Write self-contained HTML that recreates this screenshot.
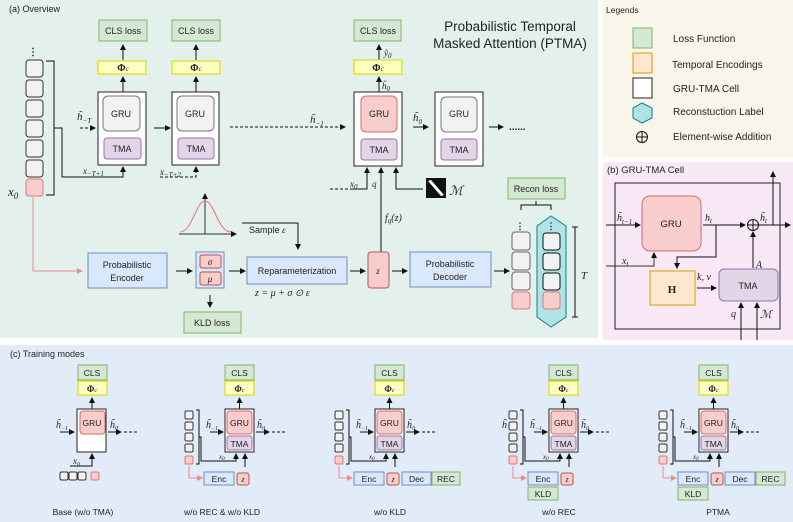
<!DOCTYPE html>
<html><head><meta charset="utf-8"><style>
html,body{margin:0;padding:0;background:#fff}
svg{display:block}
text{font-family:"Liberation Sans",sans-serif;fill:#222}
.m{font-family:"Liberation Serif",serif;font-style:italic}
.b{font-family:"Liberation Serif",serif;font-weight:bold}
</style></head><body>
<svg width="793" height="522" viewBox="0 0 793 522" xmlns="http://www.w3.org/2000/svg">
<defs>
<marker id="a" markerWidth="6" markerHeight="6" refX="5" refY="3" orient="auto" markerUnits="userSpaceOnUse"><path d="M0,0 L6,3 L0,6 z" fill="#111"/></marker>
<marker id="ap" markerWidth="6" markerHeight="6" refX="5" refY="3" orient="auto" markerUnits="userSpaceOnUse"><path d="M0,0 L6,3 L0,6 z" fill="#ea8c8c"/></marker>
</defs>
<!-- backgrounds -->
<rect x="0" y="0" width="598" height="338" fill="#e3f0ec"/>
<rect x="603" y="0" width="190" height="157" fill="#f8f6ea"/>
<rect x="603" y="162" width="190" height="178" fill="#f9e9f6"/>
<rect x="0" y="345" width="793" height="177" fill="#e2ecf8"/>

<!-- ===== Panel (a) ===== -->
<text x="9" y="12" font-size="9">(a) Overview</text>
<text x="510" y="31" font-size="13.5" text-anchor="middle">Probabilistic Temporal</text>
<text x="510" y="48" font-size="13.5" text-anchor="middle">Masked Attention (PTMA)</text>

<!-- input stack -->
<text x="33" y="55" font-size="10" text-anchor="middle" font-weight="bold">⋮</text>
<g fill="#f2f2f2" stroke="#333" stroke-width="1">
<rect x="26" y="60" width="17" height="17" rx="3"/>
<rect x="26" y="80" width="17" height="17" rx="3"/>
<rect x="26" y="100" width="17" height="17" rx="3"/>
<rect x="26" y="120" width="17" height="17" rx="3"/>
<rect x="26" y="140" width="17" height="17" rx="3"/>
<rect x="26" y="160" width="17" height="17" rx="3"/>
</g>
<rect x="26" y="179" width="17" height="17" rx="3" fill="#f8cecc" stroke="#d77" stroke-width="1"/>
<text x="8" y="196" font-size="13" class="m">x<tspan font-size="9" dy="3">0</tspan></text>
<path d="M46,61 H54 V195 H46" fill="none" stroke="#111"/>
<path d="M54,128 H62 V177 H123 V167" fill="none" stroke="#111" marker-end="url(#a)"/>
<text x="83" y="174" font-size="9" class="m">x<tspan font-size="7" dy="2">−T+1</tspan></text>

<!-- cell 1 -->
<rect x="99" y="20" width="48" height="21" fill="#d5e8d4" stroke="#82b366"/>
<text x="123" y="34" font-size="9" text-anchor="middle">CLS loss</text>
<path d="M123,60 V45" stroke="#111" marker-end="url(#a)"/>
<rect x="98" y="61" width="48" height="13" fill="#ffffc0" stroke="#d6d600"/>
<text x="123" y="71" font-size="10" text-anchor="middle" class="b">Φ<tspan font-size="7" class="m" font-weight="normal">c</tspan></text>
<path d="M123,92 V77" stroke="#111" marker-end="url(#a)"/>
<rect x="98" y="92" width="48" height="73" fill="#fff" stroke="#222"/>
<rect x="103" y="96" width="37" height="35" rx="5" fill="#f2f2f2" stroke="#777"/>
<text x="121" y="117" font-size="9" text-anchor="middle">GRU</text>
<rect x="104" y="138" width="37" height="21" rx="3" fill="#e1d5e7" stroke="#9673a6"/>
<text x="122" y="152" font-size="9" text-anchor="middle">TMA</text>
<text x="77" y="120" font-size="11" class="m">h̃<tspan font-size="7" dy="3">−T</tspan></text>
<path d="M80,128 H95" stroke="#111" stroke-dasharray="3,2" marker-end="url(#a)"/>
<path d="M154,128 H170" stroke="#111" marker-end="url(#a)"/>

<!-- cell 2 -->
<rect x="172" y="20" width="48" height="21" fill="#d5e8d4" stroke="#82b366"/>
<text x="196" y="34" font-size="9" text-anchor="middle">CLS loss</text>
<path d="M196,60 V45" stroke="#111" marker-end="url(#a)"/>
<rect x="172" y="61" width="48" height="13" fill="#ffffc0" stroke="#d6d600"/>
<text x="196" y="71" font-size="10" text-anchor="middle" class="b">Φ<tspan font-size="7" class="m" font-weight="normal">c</tspan></text>
<path d="M196,92 V77" stroke="#111" marker-end="url(#a)"/>
<rect x="172" y="92" width="47" height="73" fill="#fff" stroke="#222"/>
<rect x="177" y="96" width="37" height="35" rx="5" fill="#f2f2f2" stroke="#777"/>
<text x="195" y="117" font-size="9" text-anchor="middle">GRU</text>
<rect x="178" y="138" width="36" height="21" rx="3" fill="#e1d5e7" stroke="#9673a6"/>
<text x="196" y="152" font-size="9" text-anchor="middle">TMA</text>
<path d="M160,177 H196 V167" fill="none" stroke="#111" stroke-dasharray="3,2" marker-end="url(#a)"/>
<text x="160" y="175" font-size="9" class="m">x<tspan font-size="7" dy="2">−T+2</tspan></text>

<path d="M230,127 H345" stroke="#111" stroke-dasharray="3,2" marker-end="url(#a)"/>
<text x="310" y="123" font-size="11" class="m">h̃<tspan font-size="7" dy="3">−1</tspan></text>

<!-- cell 3 -->
<rect x="354" y="20" width="47" height="21" fill="#d5e8d4" stroke="#82b366"/>
<text x="378" y="34" font-size="9" text-anchor="middle">CLS loss</text>
<path d="M379,60 V45" stroke="#111" marker-end="url(#a)"/>
<text x="384" y="56" font-size="9" class="m">ŷ<tspan font-size="7" dy="2">0</tspan></text>
<rect x="354" y="60" width="48" height="14" fill="#ffffc0" stroke="#d6d600"/>
<text x="378" y="71" font-size="10" text-anchor="middle" class="b">Φ<tspan font-size="7" class="m" font-weight="normal">c</tspan></text>
<path d="M379,92 V77" stroke="#111" marker-end="url(#a)"/>
<text x="382" y="89" font-size="9" class="m">h̃<tspan font-size="7" dy="2">0</tspan></text>
<rect x="354" y="92" width="48" height="74" fill="#fff" stroke="#222"/>
<rect x="361" y="96" width="36" height="36" rx="5" fill="#f8cecc" stroke="#d36b6b"/>
<text x="379" y="117" font-size="9" text-anchor="middle">GRU</text>
<rect x="361" y="139" width="36" height="21" rx="3" fill="#e1d5e7" stroke="#9673a6"/>
<text x="379" y="153" font-size="9" text-anchor="middle">TMA</text>

<!-- cell 4 -->
<text x="413" y="121" font-size="11" class="m">h̃<tspan font-size="7" dy="3">0</tspan></text>
<path d="M413,127 H428" stroke="#111" marker-end="url(#a)"/>
<rect x="435" y="92" width="48" height="74" fill="#fff" stroke="#222"/>
<rect x="441" y="97" width="36" height="35" rx="5" fill="#f2f2f2" stroke="#777"/>
<text x="459" y="117" font-size="9" text-anchor="middle">GRU</text>
<rect x="441" y="139" width="36" height="21" rx="3" fill="#e1d5e7" stroke="#9673a6"/>
<text x="459" y="153" font-size="9" text-anchor="middle">TMA</text>
<path d="M489,127 H503" stroke="#111" marker-end="url(#a)"/>
<text x="509" y="130" font-size="10" font-weight="bold">......</text>

<!-- inputs to cell 3 -->
<path d="M330,189 H352" fill="none" stroke="#111" stroke-dasharray="3,2"/>
<path d="M352,189 H367 V168" fill="none" stroke="#111" marker-end="url(#a)"/>
<text x="350" y="187" font-size="9" class="m">x<tspan font-size="7" dy="2">0</tspan></text>
<text x="372" y="187" font-size="9" class="m">q</text>
<path d="M381,252 V168" stroke="#111" marker-end="url(#a)"/>
<path d="M423,189 H396 V168" fill="none" stroke="#111" marker-end="url(#a)"/>
<rect x="426" y="178" width="20" height="20" fill="#111"/>
<path d="M428,181 L431,180 L444,195 L441,196 z" fill="#fff"/>
<text x="449" y="195" font-size="13" class="m">ℳ</text>
<text x="385" y="221" font-size="10" class="m">f<tspan font-size="7" dy="2">q</tspan><tspan dy="-2">(z)</tspan></text>

<!-- gaussian -->
<path d="M205,234 V194" stroke="#333" marker-end="url(#a)"/>
<path d="M179,234 H236" stroke="#333" marker-end="url(#a)"/>
<path d="M180,232 C192,232 196,201 205,201 C214,201 218,232 231,232" fill="none" stroke="#f07070"/>
<text x="249" y="233" font-size="9">Sample <tspan class="m">ε</tspan></text>
<path d="M242,223 H298 V249" fill="none" stroke="#111" marker-end="url(#a)"/>

<!-- encoder chain -->
<path d="M33,197 V271 H82" fill="none" stroke="#ea8c8c" marker-end="url(#ap)"/>
<rect x="88" y="253" width="79" height="35" fill="#dae8fc" stroke="#6c8ebf"/>
<text x="127" y="268" font-size="9" text-anchor="middle">Probabilistic</text>
<text x="127" y="281" font-size="9" text-anchor="middle">Encoder</text>
<path d="M176,271 H192" stroke="#111" marker-end="url(#a)"/>
<rect x="196" y="252" width="28" height="36" fill="#dae8fc" stroke="#6c8ebf"/>
<rect x="200" y="255" width="21" height="13" rx="2" fill="#f8cecc" stroke="#b85450"/>
<text x="210" y="265" font-size="9" text-anchor="middle" class="m">σ</text>
<rect x="200" y="272" width="21" height="13" rx="2" fill="#f8cecc" stroke="#b85450"/>
<text x="210" y="282" font-size="9" text-anchor="middle" class="m">μ</text>
<path d="M210,295 V307" stroke="#111" marker-end="url(#a)"/>
<rect x="184" y="312" width="57" height="21" fill="#d5e8d4" stroke="#82b366"/>
<text x="212" y="326" font-size="9" text-anchor="middle">KLD loss</text>
<path d="M229,271 H245" stroke="#111" marker-end="url(#a)"/>
<rect x="247" y="257" width="100" height="27" fill="#dae8fc" stroke="#6c8ebf"/>
<text x="297" y="274" font-size="9" text-anchor="middle">Reparameterization</text>
<text x="255" y="296" font-size="10" class="m">z = μ + σ ⊙ ε</text>
<path d="M350,271 H365" stroke="#111" marker-end="url(#a)"/>
<rect x="368" y="252" width="21" height="36" rx="3" fill="#f8cecc" stroke="#b85450"/>
<text x="378" y="274" font-size="9" text-anchor="middle" class="m">z</text>
<path d="M392,271 H407" stroke="#111" marker-end="url(#a)"/>
<rect x="410" y="252" width="81" height="35" fill="#dae8fc" stroke="#6c8ebf"/>
<text x="450" y="267" font-size="9" text-anchor="middle">Probabilistic</text>
<text x="450" y="280" font-size="9" text-anchor="middle">Decoder</text>
<path d="M494,271 H509" stroke="#111" marker-end="url(#a)"/>

<!-- recon -->
<text x="520" y="229" font-size="9" text-anchor="middle" font-weight="bold">⋮</text>
<g fill="#f2f2f2" stroke="#666">
<rect x="512" y="232" width="18" height="18" rx="3"/>
<rect x="512" y="252" width="18" height="18" rx="3"/>
<rect x="512" y="272" width="18" height="18" rx="3"/>
</g>
<rect x="512" y="292" width="18" height="17" rx="3" fill="#f8cecc" stroke="#d77"/>
<path d="M551,216 L566,226 V317 L551,327 L537,317 V226 z" fill="#b0e3e6" stroke="#0e8088"/>
<text x="551" y="229" font-size="9" text-anchor="middle" font-weight="bold">⋮</text>
<g fill="#f2f2f2" stroke="#111">
<rect x="543" y="233" width="17" height="17" rx="3"/>
<rect x="543" y="253" width="17" height="17" rx="3"/>
<rect x="543" y="273" width="17" height="17" rx="3"/>
</g>
<rect x="543" y="292" width="17" height="17" rx="3" fill="#f8cecc" stroke="#d77"/>
<rect x="508" y="178" width="57" height="21" fill="#d5e8d4" stroke="#82b366"/>
<text x="536" y="192" font-size="9" text-anchor="middle">Recon loss</text>
<path d="M536,201 V205 M521,210 V205 H551 V210" fill="none" stroke="#111"/>
<path d="M575,227 V317 M572,227 H578 M572,317 H578" stroke="#111"/>
<text x="581" y="279" font-size="11" class="m">T</text>

<!-- ===== Legend ===== -->
<text x="606" y="13" font-size="8.5">Legends</text>
<rect x="633" y="28" width="19" height="20" fill="#d5e8d4" stroke="#82b366"/>
<rect x="633" y="53" width="19" height="20" fill="#ffe6cc" stroke="#d79b00"/>
<rect x="633" y="78" width="19" height="20" fill="#fff" stroke="#222"/>
<path d="M642,103 L652,108 V118 L642,123 L633,118 V108 z" fill="#b0e3e6" stroke="#0e8088"/>
<circle cx="642" cy="137" r="5.5" fill="none" stroke="#111"/>
<path d="M636.5,137 H647.5 M642,131.5 V142.5" stroke="#111"/>
<text x="673" y="42" font-size="10">Loss Function</text>
<text x="672" y="68" font-size="10">Temporal Encodings</text>
<text x="673" y="92" font-size="10">GRU-TMA Cell</text>
<text x="673" y="115" font-size="10">Reconstuction Label</text>
<text x="673" y="140" font-size="10">Element-wise Addition</text>

<!-- ===== Panel (b) ===== -->
<text x="607" y="173" font-size="9.5">(b) GRU-TMA Cell</text>
<rect x="615" y="183" width="165" height="146" fill="none" stroke="#222"/>
<rect x="642" y="196" width="59" height="55" rx="8" fill="#f8cecc" stroke="#d36b6b"/>
<text x="671" y="227" font-size="9.5" text-anchor="middle">GRU</text>
<text x="617" y="221" font-size="10" class="m">h̃<tspan font-size="7" dy="3">t−1</tspan></text>
<path d="M606,225 H640" stroke="#111" marker-end="url(#a)"/>
<text x="622" y="264" font-size="10" class="m">x<tspan font-size="7" dy="2">t</tspan></text>
<path d="M606,266 H654 V253" fill="none" stroke="#333" marker-end="url(#a)"/>
<text x="705" y="221" font-size="10" class="m">h<tspan font-size="7" dy="2">t</tspan></text>
<path d="M703,225 H745" stroke="#111" marker-end="url(#a)"/>
<path d="M716,225 V257 H677 V268" fill="none" stroke="#111" marker-end="url(#a)"/>
<circle cx="753" cy="225" r="5.5" fill="none" stroke="#111"/>
<path d="M747.5,225 H758.5 M753,219.5 V230.5" stroke="#111"/>
<text x="760" y="221" font-size="10" class="m">h̃<tspan font-size="7" dy="2">t</tspan></text>
<path d="M759,225 H790" stroke="#111" marker-end="url(#a)"/>
<path d="M773,225 V172" stroke="#111" marker-end="url(#a)"/>
<rect x="650" y="271" width="45" height="34" fill="#ffe6cc" stroke="#d79b00"/>
<text x="672" y="293" font-size="11" text-anchor="middle" class="b" font-style="normal">H</text>
<text x="697" y="280" font-size="10" class="m">k, v</text>
<path d="M697,288 H716" stroke="#111" marker-end="url(#a)"/>
<rect x="719" y="269" width="59" height="32" rx="5" fill="#e1d5e7" stroke="#9673a6"/>
<text x="748" y="289" font-size="9" text-anchor="middle">TMA</text>
<text x="756" y="268" font-size="10" class="m">A</text>
<path d="M753,268 V232" stroke="#111" marker-end="url(#a)"/>
<path d="M741,340 V303" stroke="#111" marker-end="url(#a)"/>
<text x="731" y="317" font-size="10" class="m">q</text>
<path d="M757,340 V303" stroke="#111" marker-end="url(#a)"/>
<text x="760" y="318" font-size="11" class="m">ℳ</text>

<!-- ===== Panel (c) ===== -->
<text x="10" y="357" font-size="9">(c) Training modes</text>

<!-- Base -->
<g>
<rect x="78" y="365" width="29" height="15" fill="#d5e8d4" stroke="#82b366"/>
<text x="92" y="376" font-size="8.5" text-anchor="middle">CLS</text>
<rect x="78" y="381" width="29" height="14" fill="#ffffc0" stroke="#d6d600"/>
<text x="92" y="392" font-size="9" text-anchor="middle" class="b">Φ<tspan font-size="6" class="m" font-weight="normal">c</tspan></text>
<path d="M92,409 V398" stroke="#111" marker-end="url(#a)"/>
<rect x="77" y="409" width="29" height="43" fill="#fff" stroke="#222"/>
<rect x="80" y="411" width="25" height="23" rx="3" fill="#f8cecc" stroke="#d36b6b"/>
<text x="92" y="426" font-size="8.5" text-anchor="middle">GRU</text>
<text x="56" y="428" font-size="10" class="m">h̃<tspan font-size="6" dy="2">−1</tspan></text>
<path d="M60,432 H74" stroke="#111" marker-end="url(#a)"/>
<text x="110" y="428" font-size="10" class="m">h̃<tspan font-size="6" dy="2">0</tspan></text>
<path d="M108,432 H121" stroke="#111" marker-end="url(#a)"/>
<path d="M124,432 H139" stroke="#111" stroke-dasharray="3,2"/>
<text x="73" y="464" font-size="9" class="m">x<tspan font-size="6" dy="2">0</tspan></text>
<path d="M70,466 H92 V454" fill="none" stroke="#111" marker-end="url(#a)"/>
<g fill="#f2f2f2" stroke="#333"><rect x="60" y="472" width="8" height="8" rx="1.5"/><rect x="69" y="472" width="8" height="8" rx="1.5"/><rect x="78" y="472" width="8" height="8" rx="1.5"/></g>
<rect x="91" y="472" width="8" height="8" rx="1.5" fill="#f8cecc" stroke="#d77"/>
<text x="83" y="515" font-size="8.5" text-anchor="middle">Base (w/o TMA)</text>
</g>

<g transform="translate(225,0)">
<rect x="0" y="365" width="29" height="15" fill="#d5e8d4" stroke="#82b366"/>
<text x="14.5" y="376" font-size="8.5" text-anchor="middle">CLS</text>
<rect x="0" y="381" width="29" height="14" fill="#ffffc0" stroke="#d6d600"/>
<text x="14.5" y="392" font-size="9" text-anchor="middle" class="b">Φ<tspan font-size="6" class="m" font-weight="normal">c</tspan></text>
<path d="M14.5,409 V398" stroke="#111" marker-end="url(#a)"/>
<rect x="0" y="409" width="29" height="43" fill="#fff" stroke="#222"/>
<rect x="2" y="411" width="25" height="23" rx="3" fill="#f8cecc" stroke="#d36b6b"/>
<text x="14.5" y="426" font-size="8.5" text-anchor="middle">GRU</text>
<rect x="2" y="436" width="25" height="14" rx="2" fill="#e1d5e7" stroke="#9673a6"/>
<text x="14.5" y="447" font-size="8.5" text-anchor="middle">TMA</text>
<text x="-19" y="428" font-size="10" class="m">h̃<tspan font-size="6" dy="2">−1</tspan></text>
<path d="M-15,432 H-2" stroke="#111" marker-end="url(#a)"/>
<text x="32" y="428" font-size="10" class="m">h̃<tspan font-size="6" dy="2">0</tspan></text>
<path d="M31,432 H44" stroke="#111" marker-end="url(#a)"/>
<path d="M47,432 H62" stroke="#111" stroke-dasharray="3,2"/>
<g fill="#f2f2f2" stroke="#333"><rect x="-40" y="411" width="8" height="8" rx="1.5"/><rect x="-40" y="422" width="8" height="8" rx="1.5"/><rect x="-40" y="433" width="8" height="8" rx="1.5"/><rect x="-40" y="444" width="8" height="8" rx="1.5"/></g>
<rect x="-40" y="456" width="8" height="8" rx="1.5" fill="#f8cecc" stroke="#d77"/>
<path d="M-29,410 H-26 V464 H-29" fill="none" stroke="#111"/>
<path d="M-26,437 H-24 V461 H11 V454" fill="none" stroke="#111" marker-end="url(#a)"/>
<text x="-6" y="459" font-size="7" class="m">x<tspan font-size="5" dy="1">0</tspan></text>
<path d="M20,467 V454" stroke="#111" marker-end="url(#a)"/>
<path d="M-36,466 V478 H-23" fill="none" stroke="#ea8c8c" marker-end="url(#ap)"/>
<rect x="-21" y="472" width="30" height="13" fill="#dae8fc" stroke="#6c8ebf"/>
<text x="-6" y="482" font-size="8.5" text-anchor="middle">Enc</text>
<rect x="12" y="473" width="12" height="12" rx="2" fill="#f8cecc" stroke="#b85450"/>
<text x="18" y="482" font-size="8" text-anchor="middle" class="m">z</text>
</g>
<text x="222" y="515" font-size="8.5" text-anchor="middle">w/o REC &amp; w/o KLD</text>

<g transform="translate(375,0)">
<rect x="0" y="365" width="29" height="15" fill="#d5e8d4" stroke="#82b366"/>
<text x="14.5" y="376" font-size="8.5" text-anchor="middle">CLS</text>
<rect x="0" y="381" width="29" height="14" fill="#ffffc0" stroke="#d6d600"/>
<text x="14.5" y="392" font-size="9" text-anchor="middle" class="b">Φ<tspan font-size="6" class="m" font-weight="normal">c</tspan></text>
<path d="M14.5,409 V398" stroke="#111" marker-end="url(#a)"/>
<rect x="0" y="409" width="29" height="43" fill="#fff" stroke="#222"/>
<rect x="2" y="411" width="25" height="23" rx="3" fill="#f8cecc" stroke="#d36b6b"/>
<text x="14.5" y="426" font-size="8.5" text-anchor="middle">GRU</text>
<rect x="2" y="436" width="25" height="14" rx="2" fill="#e1d5e7" stroke="#9673a6"/>
<text x="14.5" y="447" font-size="8.5" text-anchor="middle">TMA</text>
<text x="-19" y="428" font-size="10" class="m">h̃<tspan font-size="6" dy="2">−1</tspan></text>
<path d="M-15,432 H-2" stroke="#111" marker-end="url(#a)"/>
<text x="32" y="428" font-size="10" class="m">h̃<tspan font-size="6" dy="2">0</tspan></text>
<path d="M31,432 H44" stroke="#111" marker-end="url(#a)"/>
<path d="M47,432 H62" stroke="#111" stroke-dasharray="3,2"/>
<g fill="#f2f2f2" stroke="#333"><rect x="-40" y="411" width="8" height="8" rx="1.5"/><rect x="-40" y="422" width="8" height="8" rx="1.5"/><rect x="-40" y="433" width="8" height="8" rx="1.5"/><rect x="-40" y="444" width="8" height="8" rx="1.5"/></g>
<rect x="-40" y="456" width="8" height="8" rx="1.5" fill="#f8cecc" stroke="#d77"/>
<path d="M-29,410 H-26 V464 H-29" fill="none" stroke="#111"/>
<path d="M-26,437 H-24 V461 H11 V454" fill="none" stroke="#111" marker-end="url(#a)"/>
<text x="-6" y="459" font-size="7" class="m">x<tspan font-size="5" dy="1">0</tspan></text>
<path d="M20,467 V454" stroke="#111" marker-end="url(#a)"/>
<path d="M-36,466 V478 H-23" fill="none" stroke="#ea8c8c" marker-end="url(#ap)"/>
<rect x="-21" y="472" width="30" height="13" fill="#dae8fc" stroke="#6c8ebf"/>
<text x="-6" y="482" font-size="8.5" text-anchor="middle">Enc</text>
<rect x="12" y="473" width="12" height="12" rx="2" fill="#f8cecc" stroke="#b85450"/>
<text x="18" y="482" font-size="8" text-anchor="middle" class="m">z</text>
<rect x="27" y="472" width="29" height="13" fill="#dae8fc" stroke="#6c8ebf"/>
<text x="41.5" y="482" font-size="8.5" text-anchor="middle">Dec</text>
<rect x="57" y="472" width="28" height="13" fill="#d5e8d4" stroke="#82b366"/>
<text x="71" y="482" font-size="8.5" text-anchor="middle">REC</text>
</g>
<text x="390" y="515" font-size="8.5" text-anchor="middle">w/o KLD</text>

<g transform="translate(549,0)">
<rect x="0" y="365" width="29" height="15" fill="#d5e8d4" stroke="#82b366"/>
<text x="14.5" y="376" font-size="8.5" text-anchor="middle">CLS</text>
<rect x="0" y="381" width="29" height="14" fill="#ffffc0" stroke="#d6d600"/>
<text x="14.5" y="392" font-size="9" text-anchor="middle" class="b">Φ<tspan font-size="6" class="m" font-weight="normal">c</tspan></text>
<path d="M14.5,409 V398" stroke="#111" marker-end="url(#a)"/>
<rect x="0" y="409" width="29" height="43" fill="#fff" stroke="#222"/>
<rect x="2" y="411" width="25" height="23" rx="3" fill="#f8cecc" stroke="#d36b6b"/>
<text x="14.5" y="426" font-size="8.5" text-anchor="middle">GRU</text>
<rect x="2" y="436" width="25" height="14" rx="2" fill="#e1d5e7" stroke="#9673a6"/>
<text x="14.5" y="447" font-size="8.5" text-anchor="middle">TMA</text>
<text x="-47" y="428" font-size="10" class="m">h̃</text>
<text x="-19" y="428" font-size="10" class="m">h̃<tspan font-size="6" dy="2">−1</tspan></text>
<path d="M-15,432 H-2" stroke="#111" marker-end="url(#a)"/>
<text x="32" y="428" font-size="10" class="m">h̃<tspan font-size="6" dy="2">0</tspan></text>
<path d="M31,432 H44" stroke="#111" marker-end="url(#a)"/>
<path d="M47,432 H62" stroke="#111" stroke-dasharray="3,2"/>
<g fill="#f2f2f2" stroke="#333"><rect x="-40" y="411" width="8" height="8" rx="1.5"/><rect x="-40" y="422" width="8" height="8" rx="1.5"/><rect x="-40" y="433" width="8" height="8" rx="1.5"/><rect x="-40" y="444" width="8" height="8" rx="1.5"/></g>
<rect x="-40" y="456" width="8" height="8" rx="1.5" fill="#f8cecc" stroke="#d77"/>
<path d="M-29,410 H-26 V464 H-29" fill="none" stroke="#111"/>
<path d="M-26,437 H-24 V461 H11 V454" fill="none" stroke="#111" marker-end="url(#a)"/>
<text x="-6" y="459" font-size="7" class="m">x<tspan font-size="5" dy="1">0</tspan></text>
<path d="M20,467 V454" stroke="#111" marker-end="url(#a)"/>
<path d="M-36,466 V478 H-23" fill="none" stroke="#ea8c8c" marker-end="url(#ap)"/>
<rect x="-21" y="472" width="30" height="13" fill="#dae8fc" stroke="#6c8ebf"/>
<text x="-6" y="482" font-size="8.5" text-anchor="middle">Enc</text>
<rect x="12" y="473" width="12" height="12" rx="2" fill="#f8cecc" stroke="#b85450"/>
<text x="18" y="482" font-size="8" text-anchor="middle" class="m">z</text>
<rect x="-21" y="487" width="30" height="13" fill="#d5e8d4" stroke="#82b366"/>
<text x="-6" y="497" font-size="8.5" text-anchor="middle">KLD</text>
</g>
<text x="559" y="515" font-size="8.5" text-anchor="middle">w/o REC</text>

<g transform="translate(699,0)">
<rect x="0" y="365" width="29" height="15" fill="#d5e8d4" stroke="#82b366"/>
<text x="14.5" y="376" font-size="8.5" text-anchor="middle">CLS</text>
<rect x="0" y="381" width="29" height="14" fill="#ffffc0" stroke="#d6d600"/>
<text x="14.5" y="392" font-size="9" text-anchor="middle" class="b">Φ<tspan font-size="6" class="m" font-weight="normal">c</tspan></text>
<path d="M14.5,409 V398" stroke="#111" marker-end="url(#a)"/>
<rect x="0" y="409" width="29" height="43" fill="#fff" stroke="#222"/>
<rect x="2" y="411" width="25" height="23" rx="3" fill="#f8cecc" stroke="#d36b6b"/>
<text x="14.5" y="426" font-size="8.5" text-anchor="middle">GRU</text>
<rect x="2" y="436" width="25" height="14" rx="2" fill="#e1d5e7" stroke="#9673a6"/>
<text x="14.5" y="447" font-size="8.5" text-anchor="middle">TMA</text>
<text x="-19" y="428" font-size="10" class="m">h̃<tspan font-size="6" dy="2">−1</tspan></text>
<path d="M-15,432 H-2" stroke="#111" marker-end="url(#a)"/>
<text x="32" y="428" font-size="10" class="m">h̃<tspan font-size="6" dy="2">0</tspan></text>
<path d="M31,432 H44" stroke="#111" marker-end="url(#a)"/>
<path d="M47,432 H62" stroke="#111" stroke-dasharray="3,2"/>
<g fill="#f2f2f2" stroke="#333"><rect x="-40" y="411" width="8" height="8" rx="1.5"/><rect x="-40" y="422" width="8" height="8" rx="1.5"/><rect x="-40" y="433" width="8" height="8" rx="1.5"/><rect x="-40" y="444" width="8" height="8" rx="1.5"/></g>
<rect x="-40" y="456" width="8" height="8" rx="1.5" fill="#f8cecc" stroke="#d77"/>
<path d="M-29,410 H-26 V464 H-29" fill="none" stroke="#111"/>
<path d="M-26,437 H-24 V461 H11 V454" fill="none" stroke="#111" marker-end="url(#a)"/>
<text x="-6" y="459" font-size="7" class="m">x<tspan font-size="5" dy="1">0</tspan></text>
<path d="M20,467 V454" stroke="#111" marker-end="url(#a)"/>
<path d="M-36,466 V478 H-23" fill="none" stroke="#ea8c8c" marker-end="url(#ap)"/>
<rect x="-21" y="472" width="30" height="13" fill="#dae8fc" stroke="#6c8ebf"/>
<text x="-6" y="482" font-size="8.5" text-anchor="middle">Enc</text>
<rect x="12" y="473" width="12" height="12" rx="2" fill="#f8cecc" stroke="#b85450"/>
<text x="18" y="482" font-size="8" text-anchor="middle" class="m">z</text>
<rect x="26" y="472" width="30" height="13" fill="#dae8fc" stroke="#6c8ebf"/>
<text x="41" y="482" font-size="8.5" text-anchor="middle">Dec</text>
<rect x="57" y="472" width="29" height="13" fill="#d5e8d4" stroke="#82b366"/>
<text x="71.5" y="482" font-size="8.5" text-anchor="middle">REC</text>
<rect x="-21" y="487" width="30" height="13" fill="#d5e8d4" stroke="#82b366"/>
<text x="-6" y="497" font-size="8.5" text-anchor="middle">KLD</text>
</g>
<text x="718" y="515" font-size="8.5" text-anchor="middle">PTMA</text>
</svg>
</body></html>
